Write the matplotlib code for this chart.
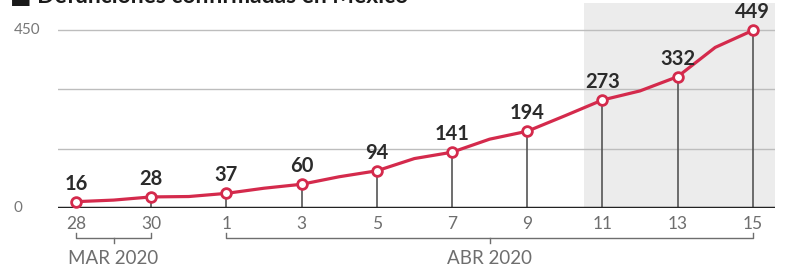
import matplotlib
matplotlib.use("Agg")
import matplotlib.pyplot as plt

plt.rcParams['font.family'] = ['Lato', 'DejaVu Sans']

# days counted from 28 Mar 2020
days = list(range(19))
deaths = [16, 20, 28, 29, 37, 50, 60, 79, 94, 125, 141, 174, 194, 233, 273, 296, 332, 406, 449]
tick_days = [0, 2, 4, 6, 8, 10, 12, 14, 16, 18]
tick_labels = ['28', '30', '1', '3', '5', '7', '9', '11', '13', '15']
title = "\u25a0 Defunciones confirmadas en México"

red = '#d42a4c'
W, H = 787, 269
fig = plt.figure(figsize=(W / 100, H / 100), dpi=100)

x0, x1 = 58, 775
y0, y1 = 208, 3
ax = fig.add_axes([x0 / W, (H - y0) / H, (x1 - x0) / W, (y0 - y1) / H])
ax.set_xlim((x0 - 76) / 37.6, (x1 - 76) / 37.6)
ax.set_ylim(0, (y0 - y1) / 178 * 450)

ax.axvspan(13.5, (x1 - 76) / 37.6, color='#ececec', zorder=0, lw=0)
for g in [150, 300, 450]:
    ax.axhline(g, color='#bdbdbd', lw=1, zorder=1)
ax.axhline(0, color='#222222', lw=2.5, zorder=4)

for d in tick_days:
    v = deaths[d]
    ax.plot([d, d], [0, v], color='#555555', lw=1.2, zorder=2)
    ax.text(d, v + 20, str(v), ha='center', va='bottom', fontsize=14.5,
            fontweight='bold', color='#2b2b2b', zorder=6)

ax.plot(days, deaths, color=red, lw=2.3, zorder=3)
ax.plot(tick_days, [deaths[d] for d in tick_days], 'o', ms=7, mfc='white',
        mec=red, mew=2, zorder=5)

ax.set_xticks(tick_days)
ax.set_xticklabels(tick_labels, fontsize=12.5, color='#6e6e6e')
ax.tick_params(axis='x', length=0, pad=6)
ax.set_yticks([])
for s in ax.spines.values():
    s.set_visible(False)
ax.patch.set_alpha(0)

# month brackets
tr = ax.get_xaxis_transform()
for a, b, lab in [(0, 2, 'MAR 2020'), (4, 18, 'ABR 2020')]:
    ax.plot([a, a, b, b], [-0.122, -0.146, -0.146, -0.122], color='#6e6e6e',
            lw=1, transform=tr, clip_on=False)
    m = (a + b) / 2
    ax.plot([m, m], [-0.146, -0.17], color='#6e6e6e', lw=1, transform=tr, clip_on=False)
    ax.text(m, -0.245, lab, ha='center', va='center', fontsize=13.5,
            color='#6e6e6e', transform=tr)

fig.text(14 / W, (H - 208) / H, '0', ha='left', va='center', fontsize=11, color='#777777')
fig.text(14 / W, (H - 30) / H, '450', ha='left', va='center', fontsize=11, color='#777777')
fig.text(10 / W, (H + 4) / H, title, ha='left', va='center', fontsize=16.5,
         fontweight='bold', color='#1a1a1a')

fig.savefig('out.png', dpi=100, facecolor='white')
